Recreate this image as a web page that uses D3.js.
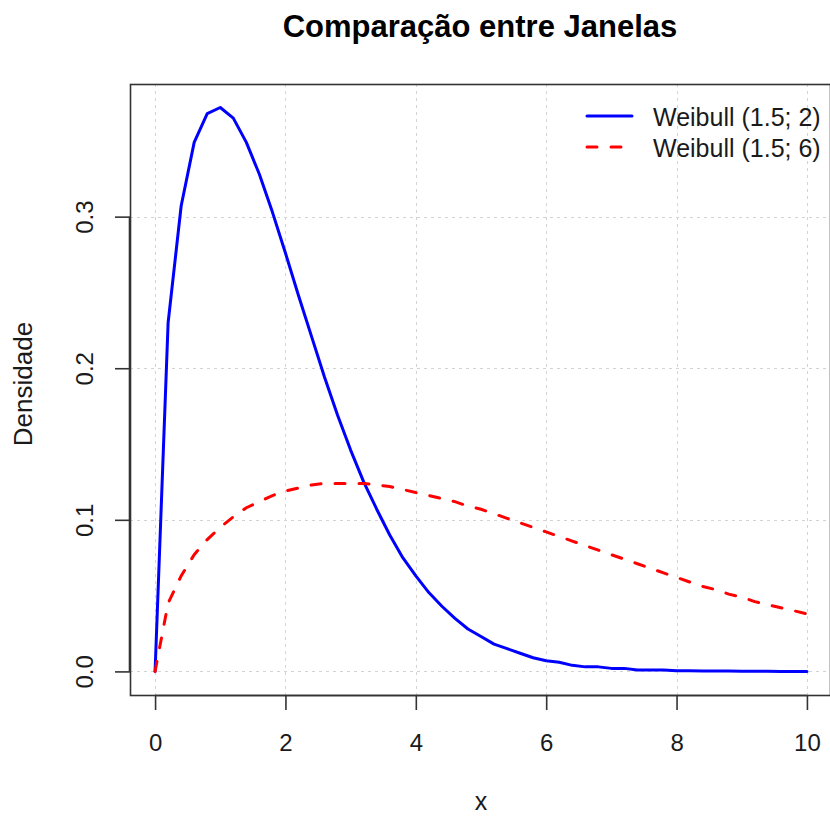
<!DOCTYPE html>
<html>
<head>
<meta charset="utf-8">
<script src="https://cdn.jsdelivr.net/npm/d3@7/dist/d3.min.js"></script>
<style>
  body { margin: 0; background: #fff; }
  svg { display: block; font-family: "Liberation Sans", Arial, sans-serif; }
</style>
</head>
<body>
<svg id="chart" width="830" height="816"></svg>
<script>
// Evaluation grid on the x axis
const xs = [0, 0.2, 0.4, 0.6, 0.8, 1.0, 1.2, 1.4, 1.6, 1.8, 2.0, 2.2, 2.4, 2.6, 2.8, 3.0,
  3.2, 3.4, 3.6, 3.8, 4.0, 4.2, 4.4, 4.6, 4.8, 5.0, 5.2, 5.4, 5.6, 5.8, 6.0,
  6.2, 6.4, 6.6, 6.8, 7.0, 7.2, 7.4, 7.6, 7.8, 8.0, 8.2, 8.4, 8.6, 8.8, 9.0,
  9.2, 9.4, 9.6, 9.8, 10.0];

// Density values, Weibull (1.5; 2)
const densA = [0, 0.230, 0.307, 0.349, 0.368, 0.372, 0.365, 0.349, 0.328, 0.303, 0.276,
  0.248, 0.221, 0.194, 0.169, 0.146, 0.125, 0.107, 0.090, 0.075, 0.063,
  0.052, 0.043, 0.035, 0.028, 0.023, 0.018, 0.015, 0.012, 0.009, 0.007,
  0.006, 0.004, 0.003, 0.003, 0.002, 0.002, 0.001, 0.001, 0.001, 0.0005,
  0.0004, 0.0003, 0.0002, 0.0002, 0.0001, 0.0001, 0.0001, 0, 0, 0];

// Density values, Weibull (1.5; 6)
const densB = [0, 0.045, 0.063, 0.077, 0.087, 0.095, 0.102, 0.108, 0.112, 0.116, 0.119,
  0.121, 0.123, 0.124, 0.124, 0.124, 0.124, 0.123, 0.122, 0.120, 0.118,
  0.116, 0.114, 0.112, 0.109, 0.107, 0.104, 0.101, 0.098, 0.095, 0.092,
  0.089, 0.086, 0.083, 0.080, 0.077, 0.074, 0.071, 0.068, 0.065, 0.062,
  0.059, 0.056, 0.054, 0.051, 0.049, 0.046, 0.044, 0.042, 0.040, 0.038];

const seriesNames = ["Weibull (1.5; 2)", "Weibull (1.5; 6)"];
const xTicks = [0, 2, 4, 6, 8, 10];
const yTicks = [0.0, 0.1, 0.2, 0.3];

const svg = d3.select("#chart");
const box = { left: 130, right: 830, top: 84, bottom: 695 };
const textColor = "#1a1a1a";

const x = d3.scaleLinear().domain([-0.4, 10.4]).range([129, 833]);
const y = d3.scaleLinear().domain([-0.0149, 0.3875]).range([694, 84]);

// grid
const grid = svg.append("g").attr("stroke", "#d3d3d3").attr("stroke-width", 1)
  .attr("stroke-dasharray", "3,4");
grid.selectAll("line.v").data(xTicks).join("line")
  .attr("x1", d => Math.round(x(d)) + 0.5).attr("x2", d => Math.round(x(d)) + 0.5)
  .attr("y1", box.top).attr("y2", box.bottom);
grid.selectAll("line.h").data(yTicks).join("line")
  .attr("y1", d => Math.round(y(d)) + 0.5).attr("y2", d => Math.round(y(d)) + 0.5)
  .attr("x1", box.left).attr("x2", box.right);

// curves
const line = d3.line().x(d => x(d[0])).y(d => y(d[1]));
svg.append("clipPath").attr("id", "plotclip").append("rect")
  .attr("x", box.left).attr("y", box.top)
  .attr("width", box.right - box.left).attr("height", box.bottom - box.top);

svg.append("path").datum(xs.map((v, i) => [v, densA[i]]))
  .attr("d", line).attr("fill", "none").attr("stroke", "#0000ff")
  .attr("stroke-width", 3).attr("stroke-linejoin", "round").attr("stroke-linecap", "round")
  .attr("clip-path", "url(#plotclip)");

svg.append("path").datum(xs.map((v, i) => [v, densB[i]]))
  .attr("d", line).attr("fill", "none").attr("stroke", "#ff0000")
  .attr("stroke-width", 3).attr("stroke-dasharray", "10,14").attr("stroke-linecap", "round")
  .attr("clip-path", "url(#plotclip)");

// box
svg.append("rect").attr("x", box.left + 0.5).attr("y", box.top + 0.5)
  .attr("width", box.right - box.left).attr("height", box.bottom - box.top)
  .attr("fill", "none").attr("stroke", "#333").attr("stroke-width", 1.6);

// x axis
const xAxis = d3.axisBottom(x).tickValues(xTicks).tickSize(15)
  .tickFormat(d3.format("d"));
const gx = svg.append("g").attr("transform", `translate(0,${box.bottom})`).call(xAxis);
gx.select(".domain").attr("d", `M${x(0)},0.5H${x(10)}`).attr("stroke", "#333").attr("stroke-width", 1.6);
gx.selectAll(".tick line").attr("stroke", "#333").attr("stroke-width", 1.6);
gx.selectAll(".tick text").attr("font-size", 24).attr("fill", textColor)
  .attr("font-family", "Liberation Sans, Arial, sans-serif")
  .attr("y", 56).attr("dy", null);

// y axis
const yAxis = d3.axisLeft(y).tickValues(yTicks).tickSize(15)
  .tickFormat(d3.format(".1f"));
const gy = svg.append("g").attr("transform", `translate(${box.left},0)`).call(yAxis);
gy.select(".domain").attr("d", `M-0.5,${y(0)}V${y(0.3)}`).attr("stroke", "#333").attr("stroke-width", 1.6);
gy.selectAll(".tick line").attr("stroke", "#333").attr("stroke-width", 1.6);
gy.selectAll(".tick text")
  .attr("font-size", 24).attr("fill", textColor)
  .attr("font-family", "Liberation Sans, Arial, sans-serif")
  .attr("x", null).attr("dy", null)
  .attr("text-anchor", "middle")
  .attr("transform", "translate(-37,0) rotate(-90)");

// title and axis titles
svg.append("text").attr("x", 480).attr("y", 37).attr("text-anchor", "middle")
  .attr("font-size", 31).attr("font-weight", "bold").attr("fill", "#000")
  .text("Comparação entre Janelas");
svg.append("text").attr("x", 481).attr("y", 810).attr("text-anchor", "middle")
  .attr("font-size", 25).attr("fill", textColor).text("x");
svg.append("text").attr("transform", `translate(32,384) rotate(-90)`)
  .attr("text-anchor", "middle").attr("font-size", 26).attr("fill", textColor)
  .text("Densidade");

// legend
const legend = svg.append("g");
const legendRows = [
  { name: seriesNames[0], color: "#0000ff", dash: null, yy: 116 },
  { name: seriesNames[1], color: "#ff0000", dash: "10,14", yy: 147 }
];
legendRows.forEach(r => {
  legend.append("line").attr("x1", 587).attr("x2", 632).attr("y1", r.yy).attr("y2", r.yy)
    .attr("stroke", r.color).attr("stroke-width", 3)
    .attr("stroke-linecap", "round")
    .attr("stroke-dasharray", r.dash);
  legend.append("text").attr("x", 653).attr("y", r.yy + 10)
    .attr("font-size", 25).attr("fill", textColor).text(r.name);
});
</script>
</body>
</html>
